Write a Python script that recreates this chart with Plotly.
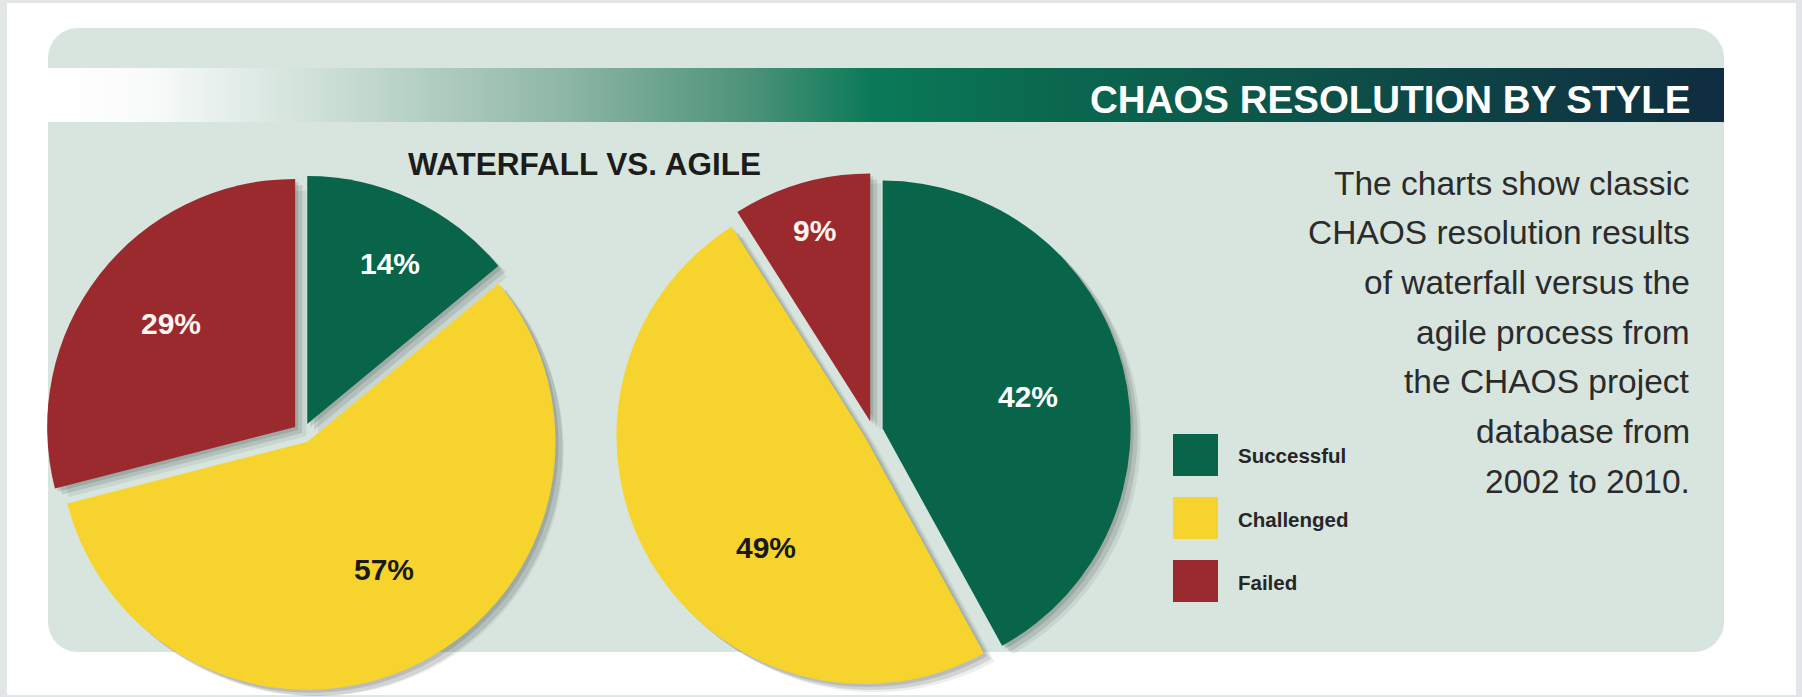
import base64
import math
import plotly.graph_objects as go

# ---------------- data ----------------
categories = ["Successful", "Challenged", "Failed"]
methods = ["Waterfall", "Agile"]
waterfall_values = [14, 57, 29]
agile_values = [42, 49, 9]

title_text = "CHAOS RESOLUTION BY STYLE"
subtitle_text = "WATERFALL VS. AGILE"
note_lines = [
    "The charts show classic",
    "CHAOS resolution results",
    "of waterfall versus the",
    "agile process from",
    "the CHAOS project",
    "database from",
    "2002 to 2010.",
]

# ---------------- style / layout ----------------
W, H = 1802, 697
FONT = "Liberation Sans, Arial, sans-serif"
slice_colors = ["#08654a", "#f7d32e", "#9b2a2f"]
label_colors = ["#ffffff", "#1a1a1a", "#fff4f0"]
PIE_CENTER = {"Waterfall": (303, 433), "Agile": (873, 431)}
R = 248
PULL = 0.04
# label placement: (fraction of radius from slice apex, angular shift in degrees)
LABEL_POS = {
    "Waterfall": [(0.73, 2), (0.60, -4), (0.65, 2)],
    "Agile": [(0.60, 2), (0.60, -18), (0.80, 0)],
}


def px(x):
    return x / W


def py(y):
    return 1 - y / H


def pie_domain(cx, cy):
    half = R * (1 + PULL)
    half = min(half, H - cy, cy)
    return dict(x=[px(cx - half), px(cx + half)], y=[py(cy + half), py(cy - half)])


values_by_method = {"Waterfall": waterfall_values, "Agile": agile_values}

fig = go.Figure()

# soft drop shadows (same data, offset)
for dx, dy, alpha in [(11, 9, 0.08), (7, 6, 0.13), (3, 3, 0.14)]:
    for m in methods:
        cx, cy = PIE_CENTER[m]
        fig.add_trace(go.Pie(
            labels=categories, values=values_by_method[m],
            domain=pie_domain(cx + dx, cy + dy),
            sort=False, direction="clockwise", rotation=0,
            pull=PULL, textinfo="none", hoverinfo="skip",
            marker=dict(colors=[f"rgba(30,40,35,{alpha})"] * 3, line=dict(width=0)),
            showlegend=False,
        ))

for m in methods:
    cx, cy = PIE_CENTER[m]
    fig.add_trace(go.Pie(
        labels=categories, values=values_by_method[m], name=m,
        domain=pie_domain(cx, cy),
        sort=False, direction="clockwise", rotation=0,
        pull=PULL, textinfo="none",
        marker=dict(colors=slice_colors, line=dict(width=0)),
        showlegend=False,
    ))

annotations = []

# slice percentage labels, positioned from the data's angles
for m in methods:
    vals = values_by_method[m]
    total = sum(vals)
    cx, cy = PIE_CENTER[m]
    start = 0.0
    for i, v in enumerate(vals):
        span = 360.0 * v / total
        mid = start + span / 2
        frac, shift = LABEL_POS[m][i]
        ox = PULL * R * math.sin(math.radians(mid))
        oy = -PULL * R * math.cos(math.radians(mid))
        a = math.radians(mid + shift)
        lx = cx + ox + frac * R * math.sin(a)
        ly = cy + oy - frac * R * math.cos(a)
        annotations.append(dict(
            x=px(lx), y=py(ly), xref="paper", yref="paper",
            text=f"<b>{v}%</b>", showarrow=False,
            font=dict(family=FONT, size=30, color=label_colors[i]),
            xanchor="center", yanchor="middle",
        ))
        start += span

# titles
annotations.append(dict(
    x=px(1692), y=py(100), xref="paper", yref="paper", text=f"<b>{title_text}</b>",
    showarrow=False, xanchor="right", yanchor="middle",
    font=dict(family=FONT, size=38.5, color="#ffffff"),
))
annotations.append(dict(
    x=px(584), y=py(164), xref="paper", yref="paper", text=f"<b>{subtitle_text}</b>",
    showarrow=False, xanchor="center", yanchor="middle",
    font=dict(family=FONT, size=31.5, color="#1c1c1a"),
))

# note text (right aligned)
for i, line in enumerate(note_lines):
    annotations.append(dict(
        x=px(1692), y=py(183 + i * 49.7), xref="paper", yref="paper", text=line,
        showarrow=False, xanchor="right", yanchor="middle",
        font=dict(family=FONT, size=33.5, color="#2b2b2b"),
    ))

# legend (swatches + labels)
shapes = []
for i, (cat, col) in enumerate(zip(categories, slice_colors)):
    y0 = 434 + i * 63
    shapes.append(dict(
        type="rect", xref="paper", yref="paper",
        x0=px(1173), x1=px(1218), y0=py(y0 + 42), y1=py(y0),
        fillcolor=col, line=dict(width=0), layer="above",
    ))
    annotations.append(dict(
        x=px(1236), y=py(y0 + 22), xref="paper", yref="paper", text=f"<b>{cat}</b>",
        showarrow=False, xanchor="left", yanchor="middle",
        font=dict(family=FONT, size=20.5, color="#262626"),
    ))

# background panel + gradient header bar as an SVG image
svg = f'''<svg xmlns="http://www.w3.org/2000/svg" width="{W}" height="{H}" viewBox="0 0 {W} {H}" preserveAspectRatio="none">
<defs><linearGradient id="g" x1="0" y1="0" x2="1" y2="0">
<stop offset="0" stop-color="#ffffff"/>
<stop offset="0.06" stop-color="#f9fbfa"/>
<stop offset="0.18" stop-color="#c6dbd2"/>
<stop offset="0.31" stop-color="#8db6a5"/>
<stop offset="0.42" stop-color="#4b9279"/>
<stop offset="0.49" stop-color="#0b7a58"/>
<stop offset="0.60" stop-color="#0a684f"/>
<stop offset="0.78" stop-color="#0d4e48"/>
<stop offset="1" stop-color="#0f2c40"/>
</linearGradient></defs>
<rect x="0" y="0" width="{W}" height="{H}" fill="#e3e6e7"/>
<rect x="7" y="3" width="1789" height="692" fill="#ffffff"/>
<rect x="48" y="28" width="1676" height="624" rx="30" ry="30" fill="#d8e5df"/>
<rect x="48" y="68" width="1676" height="54" fill="url(#g)"/>
</svg>'''
src = "data:image/svg+xml;base64," + base64.b64encode(svg.encode()).decode()

fig.update_layout(
    width=W, height=H,
    margin=dict(l=0, r=0, t=0, b=0),
    paper_bgcolor="#e3e6e7",
    plot_bgcolor="rgba(0,0,0,0)",
    showlegend=False,
    annotations=annotations,
    shapes=shapes,
    images=[dict(source=src, xref="paper", yref="paper", x=0, y=1, sizex=1, sizey=1,
                 xanchor="left", yanchor="top", sizing="stretch", layer="below")],
)

fig.write_html("out.html")
